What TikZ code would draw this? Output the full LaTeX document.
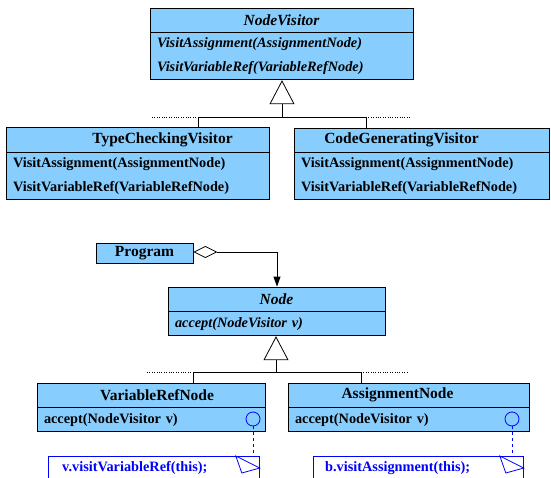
\documentclass[tikz,border=0pt]{standalone}
\usepackage{fontspec}
\setmainfont{Liberation Serif}
\usetikzlibrary{arrows.meta}

\definecolor{ltblue}{RGB}{135,206,255}
\definecolor{noteblue}{RGB}{0,0,255}

\tikzset{
  cls/.style={draw, fill=ltblue, line width=0.8pt, inner sep=0pt},
  title/.style={font=\fontsize{15.5}{17}\selectfont\bfseries, inner sep=0pt},
  ops/.style={cls, inner xsep=7pt, align=left, font=\fontsize{14.3}{24}\selectfont\bfseries},
  note/.style={draw=noteblue, line width=0.8pt, inner sep=0pt},
  notetext/.style={font=\fontsize{14.3}{16}\selectfont\bfseries, text=noteblue, inner sep=0pt, anchor=west},
  inherit/.style={line width=0.8pt, -{Triangle[open, length=24pt, width=25pt]}},
  link/.style={line width=0.8pt},
}

\begin{document}
\begin{tikzpicture}[x=1pt, y=-1pt]
\clip (0,0) rectangle (551,478);

\node[cls, minimum width=263pt, minimum height=24pt] (nv) at (281.5,20) {};
\node[title] (nvt) at (nv.center) {\itshape NodeVisitor};
\node[ops, text width=249pt, minimum height=47pt, anchor=north] (nvm) at (nv.south) {\itshape VisitAssignment(AssignmentNode)\\\itshape VisitVariableRef(VariableRefNode)};

\node[cls, minimum width=263pt, minimum height=25pt] (tcv) at (137.5,139.5) {};
\node[title] (tcvt) at ([xshift=25pt]tcv.center) {TypeCheckingVisitor};
\node[ops, text width=249pt, minimum height=47pt, anchor=north] (tcvm) at (tcv.south) {VisitAssignment(AssignmentNode)\\VisitVariableRef(VariableRefNode)};

\node[cls, minimum width=255pt, minimum height=24pt] (cgv) at (421.5,140) {};
\node[title] (cgvt) at ([xshift=-20pt]cgv.center) {CodeGeneratingVisitor};
\node[ops, text width=241pt, minimum height=47pt, anchor=north] (cgvm) at (cgv.south) {VisitAssignment(AssignmentNode)\\VisitVariableRef(VariableRefNode)};

\coordinate (vj) at (282,117);
\coordinate (vl) at (198,117);
\coordinate (vr) at (366,117);
\draw[link] (vl |- tcv.north) -- (vl) -- (vr) -- (vr |- cgv.north);
\draw[inherit] (vj) -- (vj |- nvm.south);
\draw[dotted] (vl) -- ++(-47,0);
\draw[dotted] (vr) -- ++(45,0);

\node[cls, minimum width=97pt, minimum height=20pt] (prog) at (144.5,253) {};
\node[title] (progt) at (prog.center) {Program};

\node[cls, minimum width=217pt, minimum height=24pt] (nd) at (276.5,299) {};
\node[title] (ndt) at (nd.center) {\itshape Node};
\node[ops, text width=203pt, minimum height=24pt, anchor=north] (ndm) at (nd.south) {\itshape accept(NodeVisitor v)};

\coordinate (pc) at (277,252);
\draw[link, {Diamond[open, length=24pt, width=12pt]}-{Triangle[length=10pt, width=7pt]}] (prog.east |- pc) -- (pc) -- (pc |- nd.north);

\node[cls, minimum width=228pt, minimum height=24pt] (vrn) at (151,395) {};
\node[title] (vrnt) at ([xshift=6pt]vrn.center) {VariableRefNode};
\node[ops, text width=214pt, minimum height=24pt, anchor=north] (vrnm) at (vrn.south) {accept(NodeVisitor v)};

\node[cls, minimum width=241pt, minimum height=24pt] (asn) at (408.5,395) {};
\node[title] (asnt) at ([xshift=-11pt]asn.center) {AssignmentNode};
\node[ops, text width=227pt, minimum height=24pt, anchor=north] (asnm) at (asn.south) {accept(NodeVisitor v)};

\coordinate (nj) at (276,372);
\coordinate (nl) at (193,372);
\coordinate (nr) at (361,372);
\draw[link] (nl |- vrn.north) -- (nl) -- (nr) -- (nr |- asn.north);
\draw[inherit] (nj) -- (nj |- ndm.south);
\draw[dotted] (nl) -- ++(-46,0);
\draw[dotted] (nr) -- ++(46,0);

\node[draw=noteblue, circle, line width=0.8pt, minimum size=14pt, inner sep=0pt] (vrnc) at (253,419) {};
\node[draw=noteblue, circle, line width=0.8pt, minimum size=14pt, inner sep=0pt] (asnc) at (512,419) {};

\node[note, minimum width=211pt, minimum height=60pt, anchor=north west] (vrnn) at (48,456) {};
\node[notetext] (vrnnt) at (62,468) {v.visitVariableRef(this);};
\draw[noteblue, line width=0.8pt] ([xshift=-24pt]vrnn.north east) -- ([yshift=-12pt]vrnn.north east) -- ([xshift=-18pt, yshift=-17pt]vrnn.north east) -- cycle;
\draw[noteblue, line width=0.8pt, dashed] (vrnc) -- (vrnc |- vrnn.north);

\node[note, minimum width=210pt, minimum height=60pt, anchor=north west] (asnn) at (313,456) {};
\node[notetext] (asnnt) at (325,468) {b.visitAssignment(this);};
\draw[noteblue, line width=0.8pt] ([xshift=-24pt]asnn.north east) -- ([yshift=-12pt]asnn.north east) -- ([xshift=-18pt, yshift=-17pt]asnn.north east) -- cycle;
\draw[noteblue, line width=0.8pt, dashed] (asnc) -- (asnc |- asnn.north);
\end{tikzpicture}
\end{document}
